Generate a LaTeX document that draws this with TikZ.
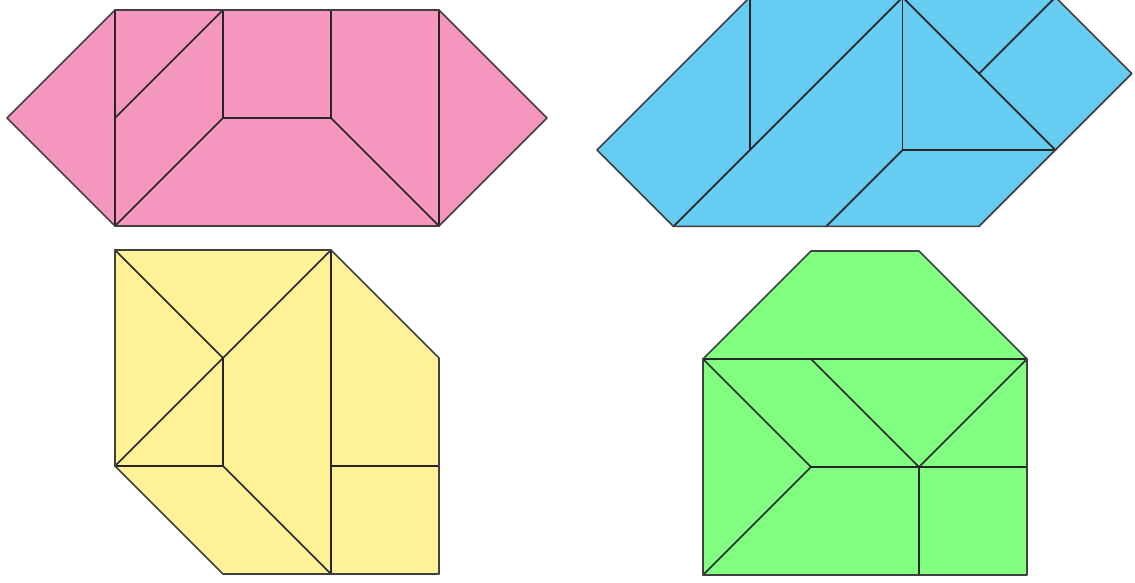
\documentclass[tikz,border=0pt]{standalone}
\usepackage{tikz}

\definecolor{pinkfill}{HTML}{F596BE}
\definecolor{bluefill}{HTML}{66CCF2}
\definecolor{yellowfill}{HTML}{FFF296}
\definecolor{greenfill}{HTML}{80FF80}

\begin{document}
\begin{tikzpicture}[
    x=1pt, y=1pt,
    outline/.style={draw=black!75,line width=1.7pt,line join=round},
    cut/.style={draw=black!85,line width=1.7pt,line cap=round}
]
\useasboundingbox (0,0) rectangle (1135,582);

% pink hexagon
\begin{scope}[shift={(115,356)}, x=108pt, y=108pt]
\fill[pinkfill] (-1,1) -- (0,2) -- (3,2) -- (4,1) -- (3,0) -- (0,0) -- cycle;
\draw[cut] (0,0) -- (0,2);
\draw[cut] (3,0) -- (3,2);
\draw[cut] (1,2) -- (1,1) -- (2,1) -- (2,2);
\draw[cut] (0,1) -- (1,2);
\draw[cut] (0,0) -- (1,1);
\draw[cut] (2,1) -- (3,0);
\draw[outline] (-1,1) -- (0,2) -- (3,2) -- (4,1) -- (3,0) -- (0,0) -- cycle;
\end{scope}

% blue shape
\begin{scope}[shift={(597,432)}, x=76.4pt, y=76.4pt]
\fill[bluefill] (0,0) -- (2,2) -- (6,2) -- (7,1) -- (5,-1) -- (1,-1) -- cycle;
\draw[cut] (2,2) -- (2,0);
\draw[cut] (1,-1) -- (4,2);
\draw[cut] (4,2) -- (4,0) -- (6,0);
\draw[cut] (3,-1) -- (4,0);
\draw[cut] (4,2) -- (6,0);
\draw[cut] (5,1) -- (6,2);
\draw[outline] (0,0) -- (2,2) -- (6,2) -- (7,1) -- (5,-1) -- (1,-1) -- cycle;
\end{scope}

% yellow shape
\begin{scope}[shift={(115,8)}, x=108pt, y=108pt]
\fill[yellowfill] (0,3) -- (2,3) -- (3,2) -- (3,0) -- (1,0) -- (0,1) -- cycle;
\draw[cut] (0,3) -- (1,2);
\draw[cut] (2,3) -- (0,1);
\draw[cut] (1,2) -- (1,1) -- (0,1);
\draw[cut] (1,1) -- (2,0);
\draw[cut] (2,3) -- (2,0);
\draw[cut] (2,1) -- (3,1);
\draw[outline] (0,3) -- (2,3) -- (3,2) -- (3,0) -- (1,0) -- (0,1) -- cycle;
\end{scope}

% green house
\begin{scope}[shift={(703,7)}, x=108pt, y=108pt]
\fill[greenfill] (0,0) -- (3,0) -- (3,2) -- (2,3) -- (1,3) -- (0,2) -- cycle;
\draw[cut] (0,2) -- (3,2);
\draw[cut] (0,2) -- (1,1) -- (0,0);
\draw[cut] (1,1) -- (3,1);
\draw[cut] (1,2) -- (2,1) -- (3,2);
\draw[cut] (2,1) -- (2,0);
\draw[outline] (0,0) -- (3,0) -- (3,2) -- (2,3) -- (1,3) -- (0,2) -- cycle;
\end{scope}
\end{tikzpicture}
\end{document}
